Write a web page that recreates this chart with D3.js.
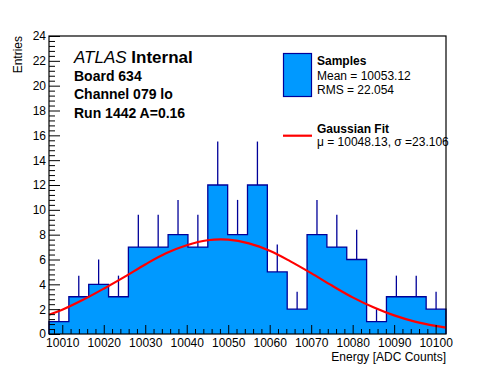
<!DOCTYPE html>
<html>
<head>
<meta charset="utf-8">
<script src="https://cdn.jsdelivr.net/npm/d3@7"></script>
<style>
  body { margin: 0; background: white; }
  text { font-family: "Liberation Sans", Arial, Helvetica, sans-serif; }
</style>
</head>
<body>
<div id="chart"></div>
<script>
// histogram bins (Energy in ADC counts)
const binLow = 10006.8
const binWidth = 4.785
const counts = [1, 3, 4, 3, 7, 7, 8, 7, 12, 8, 12, 5, 2, 8, 7, 6, 1, 3, 3, 2]
// upper error bar length
const errUp = [1, 1.7, 2, 1.7, 2.6, 2.6, 2.8, 2.6, 3.5, 2.8, 3.5, 2.2, 1.4, 2.8, 2.6, 2.4, 1, 1.7, 1.7, 1.4]

// gaussian fit curve
const fitX = [10006.8, 10010, 10015, 10020, 10025, 10030, 10035, 10040, 10045, 10050,
  10055, 10060, 10065, 10070, 10075, 10080, 10085, 10090, 10095, 10100, 10102.5]
const fitY = [1.55, 1.95, 2.75, 3.65, 4.6, 5.6, 6.5, 7.15, 7.55, 7.6,
  7.3, 6.7, 5.85, 4.9, 3.9, 2.95, 2.15, 1.5, 1.0, 0.65, 0.52]

const xTicks = [10010, 10020, 10030, 10040, 10050, 10060, 10070, 10080, 10090, 10100]
const yTicks = [0, 2, 4, 6, 8, 10, 12, 14, 16, 18, 20, 22, 24]

const infoLines = ["Board 634", "Channel 079 lo", "Run 1442 A=0.16"]
const legendSamples = ["Samples", "Mean = 10053.12", "RMS = 22.054"]
const legendFit = ["Gaussian Fit", "\u03bc = 10048.13, \u03c3 =23.106"]

const size = [496, 372]
const margin = ({top: 36, right: 50, bottom: 38, left: 49})

const fillColor = "#0099ff"
const lineColor = "#000099"

const svg = d3.create("svg")
  .attr("width", size[0])
  .attr("height", size[1])

svg.append("rect")
  .attr("width", size[0])
  .attr("height", size[1])
  .attr("fill", "white")

const scaleX = d3.scaleLinear()
  .domain([binLow, binLow + binWidth * counts.length])
  .range([margin.left, size[0] - margin.right])

const scaleY = d3.scaleLinear()
  .domain([0, 24])
  .range([size[1] - margin.bottom, margin.top])

// step outline points
const steps = [{x: binLow, y: 0}]
counts.forEach((c, i) => steps.push({x: binLow + i * binWidth, y: c}))
steps.push({x: binLow + counts.length * binWidth, y: counts[counts.length - 1]})
steps.push({x: binLow + counts.length * binWidth, y: 0})

const area = d3.area()
  .curve(d3.curveStepAfter)
  .x(d => scaleX(d.x))
  .y0(scaleY(0))
  .y1(d => scaleY(d.y))

const stepLine = d3.line()
  .curve(d3.curveStepAfter)
  .x(d => scaleX(d.x))
  .y(d => scaleY(d.y))

svg.append("path")
  .attr("d", area(steps))
  .attr("fill", fillColor)

// error bars (only the upper half shows above the fill)
svg.append("g")
  .attr("stroke", lineColor)
  .attr("stroke-width", 1.3)
  .selectAll("line")
  .data(counts)
  .join("line")
    .attr("x1", (d, i) => scaleX(binLow + (i + 0.5) * binWidth))
    .attr("x2", (d, i) => scaleX(binLow + (i + 0.5) * binWidth))
    .attr("y1", d => scaleY(d))
    .attr("y2", (d, i) => scaleY(d + errUp[i]))

svg.append("path")
  .attr("d", stepLine(steps))
  .attr("fill", "none")
  .attr("stroke", lineColor)
  .attr("stroke-width", 1.3)

// fit curve
const fitLine = d3.line()
  .curve(d3.curveCatmullRom)
  .x(d => scaleX(d[0]))
  .y(d => scaleY(d[1]))

svg.append("path")
  .attr("d", fitLine(d3.zip(fitX, fitY)))
  .attr("fill", "none")
  .attr("stroke", "#ff0000")
  .attr("stroke-width", 2.2)

// axes, ticks point inward like ROOT
const xAxis = g => g
  .attr("transform", `translate(0,${size[1] - margin.bottom})`)
  .call(d3.axisBottom(scaleX)
    .tickValues(xTicks)
    .tickSize(-9)
    .tickPadding(4)
    .tickFormat(d3.format("d")))
  .call(g => g.select(".domain").remove())

const xMinor = g => g
  .attr("transform", `translate(0,${size[1] - margin.bottom})`)
  .call(d3.axisBottom(scaleX)
    .tickValues(d3.range(10008, 10102, 2).filter(v => v % 10 != 0))
    .tickSize(-5)
    .tickFormat(""))
  .call(g => g.select(".domain").remove())

const yAxis = g => g
  .attr("transform", `translate(${margin.left},0)`)
  .call(d3.axisLeft(scaleY)
    .tickValues(yTicks)
    .tickSize(-11)
    .tickPadding(3))
  .call(g => g.select(".domain").remove())

const yMinor = g => g
  .attr("transform", `translate(${margin.left},0)`)
  .call(d3.axisLeft(scaleY)
    .tickValues(d3.range(0, 24, 0.4).filter((v, i) => i % 5 != 0))
    .tickSize(-6)
    .tickFormat(""))
  .call(g => g.select(".domain").remove())

svg.append("g").call(xMinor)
svg.append("g").call(xAxis)
svg.append("g").call(yMinor)
svg.append("g").call(yAxis)

svg.selectAll(".tick text")
  .attr("font-family", "'Liberation Sans', Arial, sans-serif")
  .attr("font-size", 12)
  .attr("fill", "black")
svg.selectAll(".tick line")
  .attr("stroke", "black")

// frame
svg.append("rect")
  .attr("x", margin.left)
  .attr("y", margin.top)
  .attr("width", size[0] - margin.right - margin.left)
  .attr("height", size[1] - margin.bottom - margin.top)
  .attr("fill", "none")
  .attr("stroke", "black")
  .attr("stroke-width", 1.2)

// axis titles
svg.append("text")
  .attr("x", size[0] - margin.right)
  .attr("y", 361)
  .attr("text-anchor", "end")
  .attr("font-size", 12)
  .text("Energy [ADC Counts]")

svg.append("text")
  .attr("transform", `translate(22,${margin.top}) rotate(-90)`)
  .attr("text-anchor", "end")
  .attr("font-size", 12)
  .text("Entries")

// ATLAS label
const title = svg.append("text")
  .attr("x", 74)
  .attr("y", 63)
  .attr("font-size", 17)
title.append("tspan")
  .attr("font-style", "italic")
  .text("ATLAS")
title.append("tspan")
  .attr("font-weight", "bold")
  .text(" Internal")

svg.append("g")
  .selectAll("text")
  .data(infoLines)
  .join("text")
    .attr("x", 74)
    .attr("y", (d, i) => 81 + i * 18.3)
    .attr("font-size", 14)
    .attr("font-weight", "bold")
    .text(d => d)

// legend
svg.append("rect")
  .attr("x", 283.5)
  .attr("y", 53.5)
  .attr("width", 28)
  .attr("height", 43)
  .attr("fill", fillColor)
  .attr("stroke", lineColor)
  .attr("stroke-width", 1.2)

svg.append("g")
  .selectAll("text")
  .data(legendSamples)
  .join("text")
    .attr("x", 317)
    .attr("y", (d, i) => [65, 80, 93.5][i])
    .attr("font-size", 12)
    .attr("font-weight", (d, i) => i == 0 ? "bold" : "normal")
    .text(d => d)

svg.append("line")
  .attr("x1", 283)
  .attr("x2", 312)
  .attr("y1", 135.7)
  .attr("y2", 135.7)
  .attr("stroke", "#ff0000")
  .attr("stroke-width", 2.2)

svg.append("g")
  .selectAll("text")
  .data(legendFit)
  .join("text")
    .attr("x", 317)
    .attr("y", (d, i) => [132.5, 145.5][i])
    .attr("font-size", 12)
    .attr("font-weight", (d, i) => i == 0 ? "bold" : "normal")
    .text(d => d)

d3.select("#chart").append(() => svg.node())
</script>
</body>
</html>
